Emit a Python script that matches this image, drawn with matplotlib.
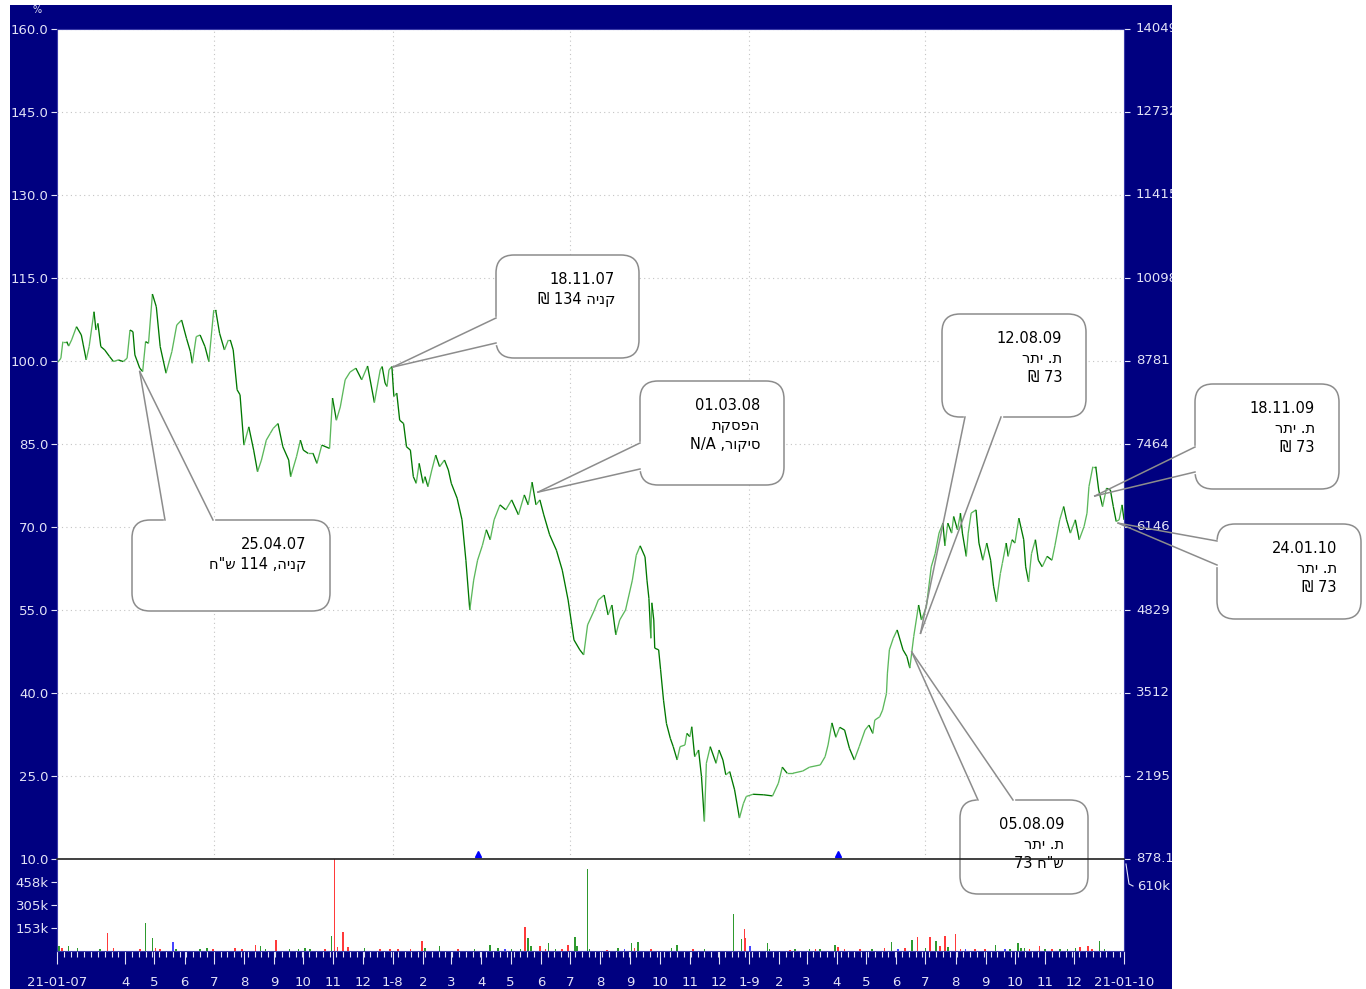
import numpy as np
import pandas as pd
import matplotlib
matplotlib.use('Agg')
import matplotlib.pyplot as plt
from matplotlib.patches import FancyBboxPatch
from matplotlib.lines import Line2D
from matplotlib.collections import LineCollection
from matplotlib.transforms import IdentityTransform, blended_transform_factory

plt.rcParams['font.family'] = ['DejaVu Sans']

# --- data (x = days after 21-01-07) ---
start = pd.Timestamp('2007-01-21')
end = pd.Timestamp('2010-01-21')

price_day = [1, 4, 6, 10, 12, 15, 20, 25, 27, 30, 33, 38, 40, 42, 45, 49, 54, 58, 63, 68, 72, 75, 78, 80, 85, 88,
             91, 94, 98, 102, 106, 112, 118, 123, 128, 133, 137, 139, 143, 147, 152, 156, 161, 163, 167, 172, 176,
             178, 181, 185, 188, 192, 197, 202, 206, 210, 215, 219, 222, 227, 232, 238, 240, 246, 250, 253, 258,
             263, 267, 272, 280, 283, 287, 291, 296, 301, 307, 313, 319, 326, 332, 334, 337, 339, 341, 344, 346,
             349, 352, 356, 359, 363, 366, 369, 372, 376, 378, 381, 385, 389, 393, 398, 402, 405, 411, 416, 420,
             424, 428, 432, 437, 441, 445, 449, 455, 461, 467, 474, 480, 484, 488, 492, 496, 500, 506, 513, 519,
             525, 531, 537, 541, 545, 552, 556, 562, 566, 570, 574, 578, 584, 591, 595, 599, 604, 606, 608, 610,
             611, 613, 614, 618, 620, 623, 626, 630, 633, 637, 640, 645, 647, 650, 652, 655, 659, 662, 665, 667,
             671, 677, 680, 684, 687, 691, 696, 701, 705, 708, 715, 726, 735, 741, 745, 750, 756, 766, 773, 784,
             789, 792, 796, 800, 804, 809, 814, 819, 824, 830, 834, 838, 840, 845, 848, 852, 853, 855, 859, 863,
             869, 873, 876, 880, 885, 888, 893, 898, 902, 906, 910, 912, 915, 919, 921, 925, 928, 930, 934, 936,
             939, 944, 947, 951, 955, 959, 962, 965, 969, 971, 975, 977, 981, 984, 988, 993, 995, 998, 1001, 1005,
             1008, 1012, 1017, 1022, 1025, 1030, 1034, 1037, 1041, 1046, 1050, 1055, 1058, 1060, 1064, 1067, 1070,
             1074, 1078, 1082, 1085, 1088, 1091, 1094, 1096]
price_pct = [99.8, 100.5, 103.5, 103.5, 102.7, 103.8, 106.2, 104.7, 102.9, 100.2, 102.6, 108.9, 105.6, 106.8,
             102.6, 102.0, 100.8, 99.9, 100.2, 99.9, 100.5, 105.6, 105.3, 101.1, 98.7, 98.1, 103.5, 103.2, 112.1,
             109.8, 102.6, 97.8, 101.7, 106.5, 107.4, 104.1, 101.7, 99.6, 104.4, 104.7, 102.6, 99.9, 109.2, 109.2,
             105.0, 102.0, 103.8, 103.8, 102.0, 94.8, 93.9, 84.8, 88.1, 83.9, 80.0, 82.1, 85.7, 86.9, 87.8, 88.7,
             84.5, 82.1, 79.1, 82.7, 85.7, 83.9, 83.3, 83.3, 81.5, 84.8, 84.2, 93.3, 89.3, 91.7, 96.6, 98.0, 98.7,
             96.6, 99.1, 92.5, 98.4, 99.0, 96.0, 95.4, 98.4, 99.0, 93.6, 94.2, 89.3, 88.7, 84.5, 83.9, 79.1, 77.9,
             81.5, 77.9, 79.1, 77.3, 80.3, 83.0, 80.9, 82.1, 80.3, 77.9, 75.2, 71.3, 64.0, 55.0, 60.4, 64.0, 66.7,
             69.5, 67.7, 71.3, 74.0, 73.1, 74.9, 72.2, 75.8, 74.0, 78.1, 74.0, 74.9, 72.2, 68.6, 65.8, 62.2, 56.8,
             49.6, 47.8, 46.9, 52.3, 55.0, 56.8, 57.7, 54.1, 55.9, 50.5, 53.2, 55.0, 60.4, 64.9, 66.6, 64.6, 60.4,
             57.1, 49.9, 56.3, 53.2, 48.1, 47.8, 44.2, 38.7, 34.5, 31.8, 30.3, 27.9, 30.3, 30.6, 32.7, 32.1, 33.9,
             28.5, 29.7, 24.9, 16.8, 27.3, 30.3, 27.3, 29.7, 27.9, 25.2, 25.8, 22.5, 17.4, 20.0, 21.3, 21.7, 21.6,
             21.4, 23.7, 26.6, 25.5, 25.5, 25.9, 26.6, 27.0, 28.5, 30.6, 34.6, 32.0, 33.8, 33.3, 30.0, 27.9, 30.3,
             33.3, 34.2, 32.7, 35.1, 35.7, 36.9, 39.9, 43.6, 47.8, 49.9, 51.4, 47.8, 46.6, 44.5, 50.2, 55.9, 53.2,
             55.6, 62.8, 65.2, 68.9, 70.7, 66.6, 70.7, 68.9, 71.9, 69.5, 72.5, 68.9, 64.7, 68.9, 72.5, 73.1, 67.1,
             64.0, 67.1, 64.0, 59.3, 56.5, 61.6, 63.4, 67.1, 64.7, 67.7, 67.1, 71.6, 67.7, 62.8, 60.1, 65.2, 67.7,
             64.0, 62.8, 64.7, 64.0, 66.6, 71.3, 73.7, 71.3, 68.9, 71.3, 67.7, 70.1, 72.5, 77.3, 80.9, 80.9, 76.7,
             73.7, 77.0, 76.7, 73.7, 71.0, 71.3, 74.0, 71.3]

# volume in thousands, colour code g=up r=down b=unchanged
vol_day = [2, 5, 12, 21, 44, 52, 58, 85, 91, 98, 101, 106, 119, 122, 147, 154, 160, 183, 190, 204, 209, 214, 225,
           239, 248, 255, 260, 275, 282, 285, 288, 294, 299, 316, 332, 342, 350, 363, 375, 378, 393, 412, 429, 445,
           453, 460, 467, 476, 481, 484, 487, 496, 502, 505, 512, 519, 525, 532, 534, 545, 547, 565, 576, 583, 590,
           593, 597, 610, 631, 637, 653, 665, 695, 703, 706, 707, 712, 730, 732, 753, 758, 773, 779, 784, 799, 802,
           809, 825, 837, 850, 857, 864, 871, 878, 884, 892, 897, 903, 907, 912, 915, 923, 928, 933, 943, 953, 964,
           974, 979, 987, 990, 994, 999, 1009, 1015, 1022, 1030, 1038, 1046, 1051, 1059, 1063, 1071, 1076]
vol_k = [30, 20, 33, 18, 12, 118, 20, 15, 184, 89, 22, 15, 60, 12, 15, 18, 12, 20, 15, 38, 33, 12, 73, 12, 15, 18,
         15, 12, 102, 640, 25, 126, 25, 18, 15, 15, 12, 12, 67, 20, 33, 15, 15, 38, 18, 12, 15, 15, 158, 89, 30, 33,
         15, 51, 15, 15, 38, 95, 30, 543, 15, 8, 20, 12, 55, 18, 60, 15, 18, 38, 15, 12, 246, 80, 146, 89, 33, 51,
         12, 8, 10, 12, 10, 10, 40, 25, 12, 10, 10, 18, 60, 15, 18, 73, 95, 22, 95, 66, 30, 102, 25, 111, 15, 15,
         12, 10, 38, 10, 12, 51, 20, 20, 15, 33, 10, 12, 12, 15, 18, 25, 30, 15, 67, 12]
vol_col = ('grgggrrrggrrbgggrrrrggrggggrgrrrrgrrrrrggrgggbggrggrrggrrggggrgbgrgrggrgggrrbggrgg'
           'rggrrrgrgbrgrgrgrrgrrbrrgbggggrr')

left_ticks = [10, 25, 40, 55, 70, 85, 100, 115, 130, 145, 160]
right_labels = ['878.1', '2195', '3512', '4829', '6146', '7464', '8781', '10098', '11415', '12732', '14049']
vol_ticks = [153, 305, 458]
vol_top = 612
marker_day = [432, 802]

callout_day = [85, 345, 494, 887, 878, 1066, 1090]
callout_pct = [98.1, 98.9, 76.3, 50.8, 47.4, 75.6, 70.7]
callout_text = [
    ['25.04.07', 'קניה, 114 ש"ח'],
    ['18.11.07', 'קניה 134 ₪'],
    ['01.03.08', 'הפסקת', 'סיקור, N/A'],
    ['12.08.09', 'ת. יתר', '73 ₪'],
    ['05.08.09', 'ת. יתר', 'ש"ח 73'],
    ['18.11.09', 'ת. יתר', '73 ₪'],
    ['24.01.10', 'ת. יתר', '73 ₪'],
]
# callout boxes in pixels (left, top, right, bottom) and the two points where the pointer leaves the box
callout_box = [(132, 520, 330, 611), (496, 255, 639, 358), (640, 381, 784, 485), (942, 314, 1086, 417),
               (960, 800, 1088, 894), (1195, 384, 1339, 489), (1217, 524, 1361, 619)]
callout_foot = [((165, 520), (213, 520)), ((496, 318), (496, 343)), ((640, 443), (640, 469)),
                ((965, 417), (1001, 417)), ((978, 800), (1013, 800)), ((1195, 447), (1195, 472)),
                ((1217, 541), (1217, 565))]


def visual(s):
    # matplotlib has no bidi, so put right-to-left text into display order
    out = []
    for tok in s.split(' ')[::-1]:
        out.append(tok[::-1] if any('\u0590' <= c <= '\u05ff' for c in tok) else tok)
    return ' '.join(out)


W, H = 1366, 989
NAVY = '#000080'
LAB = '#e2e2f6'


def frac(x0, y0, x1, y1):
    return [x0 / W, 1 - y1 / H, (x1 - x0) / W, (y1 - y0) / H]


fig = plt.figure(figsize=(W / 100, H / 100), dpi=100)
fig.patch.set_facecolor('white')

bg = fig.add_axes(frac(10, 5, 1172, 989), zorder=0)
bg.set_facecolor(NAVY)
bg.set_xlim(0, 1)
bg.set_ylim(0, 1)
bg.set_xticks([])
bg.set_yticks([])
for s in bg.spines.values():
    s.set_visible(False)

ax = fig.add_axes(frac(57, 29, 1124, 859), zorder=1)
axv = fig.add_axes(frac(57, 859, 1124, 951), zorder=1)

ndays = (end - start).days

# price line, light green on up moves, dark green on down moves
x = np.array(price_day, dtype=float)
y = np.array(price_pct)
segs = np.stack([np.column_stack([x[:-1], y[:-1]]), np.column_stack([x[1:], y[1:]])], axis=1)
cols = np.where(np.diff(y) >= 0, '#5cb85c', '#007800')
ax.add_collection(LineCollection(segs, colors=cols, linewidths=0.95, zorder=3))

ax.set_xlim(0, ndays)
ax.set_ylim(10, 160)
ax.set_yticks(left_ticks)
ax.set_yticklabels([f'{v:.1f}' for v in left_ticks])
half_years = [(pd.Timestamp(d) - start).days for d in ['2007-07-01', '2008-01-01', '2008-07-01',
                                                         '2009-01-01', '2009-07-01']]
ax.set_xticks(half_years)
ax.tick_params(axis='x', length=0, labelbottom=False)
ax.tick_params(axis='y', colors=LAB, labelsize=9.5, length=4, width=0.8, pad=2, right=True)
ax.grid(True, color='#c4c4c4', ls=(0, (1, 3)), lw=0.8)
for s in ['left', 'right', 'top']:
    ax.spines[s].set_color('#3a3aa8')
ax.spines['bottom'].set_visible(False)

ax.plot(marker_day, [10.9] * len(marker_day), '^', color='#0000ff', ms=5, clip_on=False, zorder=4)

# right-hand scale, clipped at the edge of the navy frame
tr = blended_transform_factory(bg.transAxes, ax.transData)
for v, lab in zip(left_ticks, right_labels):
    bg.text((1136 - 10) / 1162, v, lab, transform=tr, color=LAB, fontsize=9.5, va='center', ha='left',
            clip_on=True)

# volume
vcolor = {'g': '#2e9a2e', 'r': '#ff3a3a', 'b': '#4646ff'}
axv.bar(vol_day, vol_k, width=1.6, color=[vcolor[c] for c in vol_col], zorder=3)
axv.set_xlim(0, ndays)
axv.set_ylim(0, vol_top)
axv.set_yticks(vol_ticks)
axv.set_yticklabels([f'{v}k' for v in vol_ticks])

months = pd.date_range('2007-04-01', '2009-12-01', freq='MS')
mpos = [0] + [(m - start).days for m in months] + [ndays]
mlab = ['21-01-07'] + [f'1-{m.year % 10}' if m.month == 1 else str(m.month) for m in months] + ['21-01-10']
axv.set_xticks(mpos)
axv.set_xticklabels(mlab)
axv.set_xticks(np.arange(0, ndays, 7), minor=True)
axv.tick_params(axis='x', which='major', colors=LAB, labelsize=9.5, length=9, width=0.8, pad=9)
axv.tick_params(axis='x', which='minor', colors=LAB, length=4, width=0.8)
axv.tick_params(axis='y', colors=LAB, labelsize=9.5, length=4, width=0.8, pad=2)
for s in axv.spines.values():
    s.set_color('#3a3aa8')
axv.spines['top'].set_visible(False)

trv = blended_transform_factory(bg.transAxes, axv.transAxes)
bg.text((1137 - 10) / 1162, 1 - (886 - 859) / 92, '610k', transform=trv, color=LAB, fontsize=9.5,
        va='center', ha='left', clip_on=True)
fig.add_artist(Line2D([1126, 1129, 1133], [H - 864, H - 884, H - 886], color=LAB, lw=0.8,
                      transform=IdentityTransform()))

fig.text(37 / W, 1 - 10 / H, '%', color=LAB, fontsize=7, ha='center', va='center')

# callouts
for d, p, lines, (bx0, by0, bx1, by1), (f1, f2) in zip(callout_day, callout_pct, callout_text,
                                                       callout_box, callout_foot):
    tx, ty = ax.transData.transform((d, p))
    fig.add_artist(FancyBboxPatch((bx0, H - by1), bx1 - bx0, by1 - by0,
                                  boxstyle='round,pad=0,rounding_size=18', fc='white', ec='#8c8c8c',
                                  lw=1.1, transform=IdentityTransform(), zorder=3))
    fig.add_artist(Line2D([f1[0], f2[0]], [H - f1[1], H - f2[1]], color='white', lw=2.4,
                          transform=IdentityTransform(), zorder=3.1))
    for f in (f1, f2):
        fig.add_artist(Line2D([f[0], tx], [H - f[1], ty], color='#8c8c8c', lw=1.1,
                              transform=IdentityTransform(), zorder=3.2))
    fig.text(bx1 - 24, H - by0 - 17, '\n'.join(visual(t) for t in lines), transform=IdentityTransform(),
             ha='right', va='top', multialignment='right', fontsize=10.5, linespacing=1.38, zorder=3.3)

# line between price and volume panels, drawn over the callouts
fig.add_artist(Line2D([0, 1], [0, 0], transform=ax.transAxes, color='#202020', lw=1.2, zorder=5))

fig.savefig('out.png', dpi=100)
